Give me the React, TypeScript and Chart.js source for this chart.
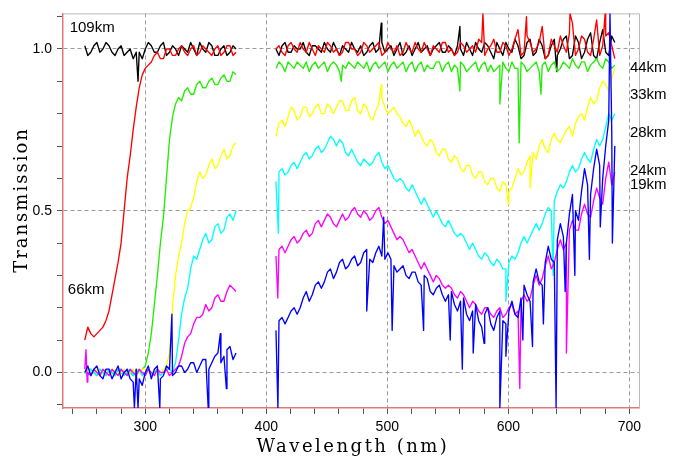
import React, { useEffect, useRef } from "react";
import { Chart, registerables } from "chart.js";

Chart.register(...registerables);

// Wavelength samples (nm)
const WL_UV = [250, 255, 260, 265, 270, 275, 280, 285, 290, 295, 300, 305, 310, 315, 320, 325, 330, 335, 340, 345, 350, 355, 360, 365, 370, 375];
const WL_UV_MID = [252.5, 257.5, 262.5, 267.5, 272.5, 277.5, 282.5, 287.5, 292.5, 297.5, 302.5, 307.5, 312.5, 317.5, 322.5, 327.5, 332.5, 337.5, 342.5, 347.5, 352.5, 357.5, 362.5, 367.5, 372.5];
const WL_VIS = [
  408, 413, 418, 423, 428, 433, 438, 443, 448, 453,
  458, 463, 468, 473, 478, 483, 488, 493, 498, 503,
  508, 513, 518, 523, 528, 533, 538, 543, 548, 553,
  558, 563, 568, 573, 578, 583, 588, 593, 598, 603,
  608, 613, 618, 623, 628, 633, 638, 643, 648, 653,
  658, 663, 668, 673, 678, 683, 688,
];
const WL_VIS_MID = [
  410.5, 415.5, 420.5, 425.5, 430.5, 435.5, 440.5, 445.5, 450.5, 455.5,
  460.5, 465.5, 470.5, 475.5, 480.5, 485.5, 490.5, 495.5, 500.5, 505.5,
  510.5, 515.5, 520.5, 525.5, 530.5, 535.5, 540.5, 545.5, 550.5, 555.5,
  560.5, 565.5, 570.5, 575.5, 580.5, 585.5, 590.5, 595.5, 600.5, 605.5,
  610.5, 615.5, 620.5, 625.5, 630.5, 635.5, 640.5, 645.5, 650.5, 655.5,
  660.5, 665.5, 670.5, 675.5, 680.5, 685.5,
];

// 109 km (black)
const BLACK_UV = [1.01, 0.99, 1.02, 1.0, 1.01, 0.98, 1.01, 0.99, 0.97, 0.99, 1.0, 1.01, 0.99, 1.02, 0.99, 1.0, 1.01, 0.99, 1.0, 1.02, 0.99, 1.01, 0.98, 1.01, 0.99, 1.0];
const BLACK_UV_MID = [0.98, 1.01, 0.99, 1.02, 0.99, 1.0, 0.98, 1.0, 0.99, 0.97, 1.02, 0.99, 1.01, 0.98, 1.01, 0.98, 1.0, 1.02, 0.98, 1.0, 1.02, 0.98, 1.0, 0.98, 1.01];
const BLACK_VIS = [
  1.0, 1.01, 0.99, 1.01, 1.0, 0.99, 1.01, 1.0, 1.02, 0.99,
  1.0, 1.01, 0.99, 1.0, 1.01, 0.99, 1.02, 1.0, 0.99, 1.01,
  1.0, 0.98, 1.01, 1.0, 0.99, 1.01, 1.0, 1.02, 0.99, 1.0,
  1.01, 0.98, 1.0, 1.02, 0.99, 1.01, 0.97, 1.0, 1.02, 0.99,
  1.01, 0.98, 1.03, 0.99, 1.01, 0.98, 1.03, 1.0, 1.04, 0.98,
  1.02, 0.99, 1.05, 0.97, 1.06, 0.98, 1.02,
];
const BLACK_VIS_MID = [
  0.98, 1.02, 0.99, 1.0, 1.02, 0.98, 1.01, 0.99, 1.0, 1.02,
  0.98, 1.0, 1.02, 0.99, 0.98, 1.01, 0.99, 1.02, 1.0, 0.98,
  1.02, 0.99, 0.98, 1.02, 1.0, 0.98, 1.01, 0.99, 1.01, 0.98,
  1.0, 1.02, 0.98, 1.0, 1.02, 0.99, 1.02, 0.98, 1.0, 1.03,
  0.97, 1.02, 0.98, 1.03, 0.97, 1.01, 0.98, 1.03, 0.97, 1.04,
  0.97, 1.03, 0.98, 1.02, 0.99, 1.04,
];
const BLACK_SPIKE_WL = [294, 495, 560, 640];
const BLACK_SPIKE_VAL = [0.9, 1.08, 1.07, 0.93];

// 66 km (red)
const RED_UV = [0.1, 0.12, 0.12, 0.14, 0.19, 0.29, 0.4, 0.6, 0.75, 0.88, 0.94, 0.96, 0.99, 0.97, 1.0, 0.98, 1.01, 0.98, 1.01, 0.99, 1.0, 0.98, 1.01, 0.99, 1.01, 0.99];
const RED_UV_MID = [0.14, 0.11, 0.13, 0.16, 0.24, 0.34, 0.5, 0.67, 0.82, 0.92, 0.95, 0.98, 0.97, 1.0, 0.98, 1.0, 0.99, 1.0, 0.98, 1.01, 0.99, 1.0, 0.98, 1.01, 0.98];
const RED_VIS = [
  1.0, 0.99, 1.01, 1.0, 1.02, 0.99, 1.0, 1.01, 0.99, 1.01,
  1.0, 0.99, 1.02, 1.0, 0.99, 1.01, 1.0, 1.02, 0.99, 1.0,
  1.01, 0.99, 1.0, 1.02, 0.99, 1.0, 1.01, 0.99, 1.02, 1.0,
  0.99, 1.01, 1.0, 0.99, 1.02, 1.0, 1.03, 0.99, 1.01, 1.0,
  1.06, 0.99, 1.02, 1.0, 1.07, 0.98, 1.01, 1.04, 0.99, 1.08,
  1.0, 1.03, 0.98, 1.09, 1.01, 1.05, 0.97,
];
const RED_VIS_MID = [
  1.01, 0.98, 1.02, 0.99, 1.0, 1.02, 0.98, 1.0, 1.02, 0.99,
  0.98, 1.02, 1.0, 0.98, 1.02, 0.99, 1.01, 0.98, 1.02, 0.99,
  0.98, 1.02, 0.99, 1.0, 1.02, 0.98, 1.0, 1.02, 0.99, 0.98,
  1.02, 0.99, 1.01, 1.03, 0.98, 1.01, 0.99, 1.02, 0.98, 1.03,
  0.98, 1.04, 0.99, 1.02, 0.97, 1.03, 0.99, 1.01, 1.05, 0.98,
  1.04, 0.99, 1.03, 0.98, 1.04, 1.01,
];
const RED_SPIKE_WL = [579, 615, 651, 680];
const RED_SPIKE_VAL = [1.11, 1.1, 1.11, 1.11];

// 44 km (green)
const GREEN_UV = [0.0, 0.01, -0.01, 0.0, 0.01, -0.01, 0.0, 0.01, -0.01, 0.0, 0.02, 0.12, 0.3, 0.48, 0.72, 0.83, 0.84, 0.88, 0.86, 0.9, 0.88, 0.91, 0.89, 0.92, 0.9, 0.92];
const GREEN_UV_MID = [0.01, 0.0, 0.01, -0.01, 0.0, 0.01, -0.01, 0.0, 0.01, 0.01, 0.06, 0.21, 0.4, 0.6, 0.79, 0.85, 0.87, 0.86, 0.89, 0.88, 0.9, 0.89, 0.91, 0.9, 0.93];
const GREEN_VIS = [
  0.94, 0.95, 0.96, 0.94, 0.95, 0.96, 0.95, 0.94, 0.96, 0.95,
  0.95, 0.95, 0.96, 0.94, 0.95, 0.96, 0.95, 0.94, 0.96, 0.95,
  0.94, 0.96, 0.95, 0.93, 0.96, 0.95, 0.94, 0.96, 0.95, 0.93,
  0.94, 0.95, 0.94, 0.96, 0.95, 0.93, 0.93, 0.95, 0.94, 0.96,
  0.94, 0.95, 0.94, 0.96, 0.95, 0.93, 0.96, 0.94, 0.95, 0.97,
  0.94, 0.96, 0.95, 0.97, 0.94, 0.96, 0.95,
];
const GREEN_VIS_MID = [
  0.96, 0.93, 0.95, 0.96, 0.94, 0.93, 0.96, 0.95, 0.93, 0.96,
  0.93, 0.94, 0.95, 0.96, 0.94, 0.93, 0.96, 0.95, 0.93, 0.96,
  0.95, 0.93, 0.96, 0.95, 0.93, 0.94, 0.96, 0.93, 0.96, 0.95,
  0.96, 0.93, 0.95, 0.93, 0.96, 0.95, 0.94, 0.96, 0.93, 0.94,
  0.96, 0.93, 0.95, 0.93, 0.96, 0.95, 0.93, 0.96, 0.94, 0.95,
  0.96, 0.93, 0.96, 0.95, 0.97, 0.94,
];
const GREEN_SPIKE_WL = [462, 560, 593, 609, 627];
const GREEN_SPIKE_VAL = [0.9, 0.87, 0.83, 0.71, 0.86];

// 33 km (yellow)
const YELLOW_UV = [0.0, -0.01, 0.01, 0.0, -0.01, 0.01, 0.0, -0.01, 0.01, 0.0, 0.01, -0.01, 0.0, 0.01, 0.06, 0.3, 0.4, 0.5, 0.54, 0.62, 0.61, 0.66, 0.64, 0.69, 0.67, 0.71];
const YELLOW_UV_MID = [0.01, 0.0, -0.01, 0.01, 0.0, -0.01, 0.01, 0.0, -0.01, 0.01, 0.0, 0.01, -0.01, 0.02, 0.2, 0.36, 0.46, 0.51, 0.59, 0.6, 0.64, 0.63, 0.67, 0.66, 0.7];
const YELLOW_VIS = [
  0.73, 0.78, 0.79, 0.81, 0.79, 0.82, 0.8, 0.83, 0.8, 0.82,
  0.82, 0.84, 0.81, 0.85, 0.8, 0.82, 0.78, 0.83, 0.82, 0.81,
  0.8, 0.77, 0.78, 0.73, 0.73, 0.7, 0.71, 0.67, 0.69, 0.65,
  0.66, 0.62, 0.64, 0.6, 0.62, 0.58, 0.6, 0.56, 0.58, 0.57,
  0.63, 0.62, 0.67, 0.66, 0.72, 0.68, 0.74, 0.71, 0.75, 0.73,
  0.79, 0.78, 0.85, 0.84, 0.9, 0.87, 0.94,
];
const YELLOW_VIS_MID = [
  0.77, 0.76, 0.82, 0.78, 0.82, 0.79, 0.82, 0.8, 0.83, 0.8,
  0.84, 0.81, 0.84, 0.81, 0.83, 0.79, 0.81, 0.85, 0.8, 0.82,
  0.79, 0.76, 0.76, 0.75, 0.71, 0.72, 0.68, 0.69, 0.66, 0.67,
  0.63, 0.64, 0.61, 0.62, 0.59, 0.6, 0.57, 0.59, 0.56, 0.6,
  0.61, 0.65, 0.68, 0.7, 0.69, 0.72, 0.72, 0.73, 0.76, 0.77,
  0.8, 0.82, 0.83, 0.88, 0.89, 0.91,
];
const YELLOW_SPIKE_WL = [495, 600, 618];
const YELLOW_SPIKE_VAL = [0.89, 0.52, 0.57];

// 28 km (cyan)
const CYAN_UV = [0.0, 0.01, -0.01, 0.0, 0.01, -0.01, 0.01, 0.0, -0.01, 0.01, 0.0, -0.01, 0.01, 0.0, 0.01, 0.03, 0.18, 0.26, 0.36, 0.38, 0.43, 0.41, 0.46, 0.44, 0.49, 0.5];
const CYAN_UV_MID = [-0.01, 0.0, 0.01, -0.01, 0.0, 0.01, -0.01, 0.01, 0.0, -0.01, 0.01, 0.0, -0.01, 0.01, 0.0, 0.1, 0.23, 0.32, 0.35, 0.41, 0.4, 0.45, 0.43, 0.48, 0.47];
const CYAN_VIS = [
  0.59, 0.63, 0.62, 0.65, 0.65, 0.68, 0.67, 0.7, 0.69, 0.73,
  0.7, 0.71, 0.67, 0.67, 0.64, 0.65, 0.65, 0.68, 0.63, 0.62,
  0.59, 0.59, 0.56, 0.56, 0.52, 0.52, 0.48, 0.48, 0.45, 0.45,
  0.42, 0.42, 0.38, 0.38, 0.35, 0.36, 0.33, 0.34, 0.32, 0.36,
  0.37, 0.42, 0.42, 0.46, 0.46, 0.51, 0.53, 0.58, 0.59, 0.64,
  0.63, 0.68, 0.65, 0.72, 0.72, 0.8, 0.8,
];
const CYAN_VIS_MID = [
  0.62, 0.61, 0.64, 0.63, 0.67, 0.66, 0.69, 0.68, 0.71, 0.72,
  0.72, 0.68, 0.69, 0.65, 0.66, 0.64, 0.67, 0.65, 0.64, 0.6,
  0.6, 0.57, 0.58, 0.54, 0.54, 0.5, 0.5, 0.46, 0.47, 0.43,
  0.43, 0.4, 0.4, 0.36, 0.37, 0.34, 0.35, 0.32, 0.34, 0.35,
  0.4, 0.4, 0.44, 0.44, 0.49, 0.5, 0.56, 0.57, 0.62, 0.62,
  0.66, 0.66, 0.69, 0.7, 0.76, 0.78,
];
const CYAN_SPIKE_WL = [410, 598, 637];
const CYAN_SPIKE_VAL = [0.43, 0.22, 0.3];

// 24 km (magenta)
const MAGENTA_UV = [0.01, -0.01, 0.0, 0.01, -0.01, 0.0, 0.01, -0.01, 0.0, 0.01, -0.01, 0.0, 0.01, 0.0, -0.01, 0.01, 0.05, 0.11, 0.15, 0.17, 0.21, 0.2, 0.24, 0.22, 0.27, 0.25];
const MAGENTA_UV_MID = [0.0, 0.01, -0.01, 0.0, 0.01, -0.01, 0.0, 0.01, -0.01, 0.0, 0.01, -0.01, 0.0, 0.01, 0.0, 0.02, 0.09, 0.12, 0.17, 0.18, 0.19, 0.23, 0.22, 0.25, 0.26];
const MAGENTA_VIS = [
  0.36, 0.39, 0.39, 0.42, 0.41, 0.44, 0.43, 0.47, 0.47, 0.48,
  0.45, 0.49, 0.48, 0.51, 0.48, 0.49, 0.48, 0.51, 0.46, 0.45,
  0.41, 0.41, 0.37, 0.36, 0.32, 0.32, 0.28, 0.29, 0.26, 0.26,
  0.23, 0.24, 0.2, 0.21, 0.18, 0.2, 0.17, 0.2, 0.18, 0.21,
  0.19, 0.24, 0.23, 0.3, 0.29, 0.36, 0.34, 0.41, 0.4, 0.47,
  0.44, 0.52, 0.48, 0.57, 0.52, 0.65, 0.62,
];
const MAGENTA_VIS_MID = [
  0.38, 0.37, 0.41, 0.4, 0.43, 0.42, 0.46, 0.45, 0.49, 0.46,
  0.47, 0.47, 0.5, 0.49, 0.5, 0.47, 0.5, 0.48, 0.47, 0.43,
  0.42, 0.39, 0.38, 0.34, 0.34, 0.3, 0.3, 0.27, 0.27, 0.24,
  0.25, 0.22, 0.22, 0.19, 0.2, 0.18, 0.19, 0.17, 0.2, 0.18,
  0.22, 0.22, 0.27, 0.27, 0.33, 0.32, 0.38, 0.38, 0.44, 0.44,
  0.49, 0.49, 0.53, 0.54, 0.6, 0.58,
];
const MAGENTA_SPIKE_WL = [251, 252, 409.5, 609.5, 648];
const MAGENTA_SPIKE_VAL = [0.07, -0.03, 0.23, -0.05, 0.06];

// 19 km (blue)
const BLUE_UV = [0.0, -0.01, 0.02, -0.02, 0.01, 0.0, -0.02, 0.01, -0.03, -0.02, 0.0, -0.02, 0.02, -0.01, 0.01, 0.0, 0.02, 0.01, 0.03, 0.02, 0.04, 0.03, 0.06, 0.05, 0.08, 0.06];
const BLUE_UV_MID = [0.02, 0.01, -0.01, 0.01, -0.02, 0.02, 0.0, -0.02, 0.01, -0.04, 0.02, 0.01, -0.02, 0.02, -0.01, 0.02, 0.0, 0.03, 0.0, 0.04, 0.01, 0.05, 0.03, 0.07, 0.04];
const BLUE_VIS = [
  0.13, 0.17, 0.17, 0.2, 0.2, 0.25, 0.24, 0.28, 0.28, 0.32,
  0.31, 0.35, 0.33, 0.36, 0.34, 0.38, 0.34, 0.39, 0.35, 0.35,
  0.31, 0.33, 0.29, 0.31, 0.27, 0.29, 0.24, 0.27, 0.22, 0.25,
  0.19, 0.23, 0.16, 0.21, 0.14, 0.2, 0.13, 0.19, 0.15, 0.22,
  0.17, 0.27, 0.22, 0.32, 0.27, 0.39, 0.34, 0.46, 0.4, 0.55,
  0.47, 0.63, 0.55, 0.69, 0.6, 0.78, 0.7,
];
const BLUE_VIS_MID = [
  0.16, 0.15, 0.19, 0.18, 0.23, 0.22, 0.27, 0.26, 0.31, 0.29,
  0.34, 0.32, 0.35, 0.33, 0.37, 0.35, 0.37, 0.36, 0.37, 0.33,
  0.32, 0.3, 0.31, 0.28, 0.3, 0.25, 0.26, 0.24, 0.24, 0.21,
  0.22, 0.18, 0.19, 0.16, 0.18, 0.15, 0.17, 0.16, 0.19, 0.18,
  0.23, 0.24, 0.28, 0.28, 0.34, 0.35, 0.41, 0.42, 0.49, 0.5,
  0.56, 0.58, 0.63, 0.64, 0.7, 0.74,
];
const BLUE_SPIKE_WL = [291, 294, 312, 322, 352, 362, 367, 409.6, 483, 497, 504, 530, 552, 562, 571, 580, 593, 598, 612, 620, 629, 639.5, 647, 655, 667, 676, 684, 686];
const BLUE_SPIKE_VAL = [-0.11, -0.11, -0.11, 0.18, -0.11, 0.12, -0.05, -0.11, 0.19, 0.48, 0.13, 0.13, 0.1, 0.01, 0.06, 0.09, -0.11, 0.05, 0.1, 0.08, 0.15, -0.11, 0.25, 0.3, 0.35, 0.45, 1.11, 0.4];

// Axis ticks
const X_TICKS = [240, 260, 280, 300, 320, 340, 360, 380, 400, 420, 440, 460, 480, 500, 520, 540, 560, 580, 600, 620, 640, 660, 680, 700];
const X_MAJOR = [300, 400, 500, 600, 700];
const Y_TICKS = [-0.1, 0.0, 0.1, 0.2, 0.3, 0.4, 0.5, 0.6, 0.7, 0.8, 0.9, 1.0, 1.1];
const Y_MAJOR = [0.0, 0.5, 1.0];

// Curve labels (altitude)
const LABEL_TEXT = ["109km", "66km", "44km", "33km", "28km", "24km", "19km"];
const LABEL_WL = [237.5, 236, 700.5, 700.5, 700.5, 700.5, 700.5];
const LABEL_T = [1.066, 0.256, 0.941, 0.857, 0.741, 0.622, 0.579];

type P = { x: number; y: number | null };

function build(
  uv: number[], uvMid: number[], vis: number[], visMid: number[], sw: number[], sv: number[]
): P[] {
  const pts: P[] = [];
  WL_UV.forEach((w, i) => pts.push({ x: w, y: uv[i] }));
  WL_UV_MID.forEach((w, i) => pts.push({ x: w, y: uvMid[i] }));
  WL_VIS.forEach((w, i) => pts.push({ x: w, y: vis[i] }));
  WL_VIS_MID.forEach((w, i) => pts.push({ x: w, y: visMid[i] }));
  sw.forEach((w, i) => pts.push({ x: w, y: sv[i] }));
  pts.push({ x: 392, y: null });
  pts.sort((a, b) => a.x - b.x);
  return pts;
}

const isMajor = (v: number, list: number[]) => list.some((m) => Math.abs(m - v) < 1e-6);

export default function App() {
  const ref = useRef<HTMLCanvasElement | null>(null);

  useEffect(() => {
    if (!ref.current) return;
    const mk = (label: string, color: string, data: P[]) => ({
      label,
      data,
      borderColor: color,
      backgroundColor: color,
      borderWidth: 1.35,
      pointRadius: 0,
      fill: false,
      tension: 0,
      spanGaps: false,
    });

    const datasets = [
      mk("19km", "#0000ff", build(BLUE_UV, BLUE_UV_MID, BLUE_VIS, BLUE_VIS_MID, BLUE_SPIKE_WL, BLUE_SPIKE_VAL)),
      mk("24km", "#ff00ff", build(MAGENTA_UV, MAGENTA_UV_MID, MAGENTA_VIS, MAGENTA_VIS_MID, MAGENTA_SPIKE_WL, MAGENTA_SPIKE_VAL)),
      mk("28km", "#00ffff", build(CYAN_UV, CYAN_UV_MID, CYAN_VIS, CYAN_VIS_MID, CYAN_SPIKE_WL, CYAN_SPIKE_VAL)),
      mk("33km", "#ffff00", build(YELLOW_UV, YELLOW_UV_MID, YELLOW_VIS, YELLOW_VIS_MID, YELLOW_SPIKE_WL, YELLOW_SPIKE_VAL)),
      mk("44km", "#22ee00", build(GREEN_UV, GREEN_UV_MID, GREEN_VIS, GREEN_VIS_MID, GREEN_SPIKE_WL, GREEN_SPIKE_VAL)),
      mk("66km", "#ff0000", build(RED_UV, RED_UV_MID, RED_VIS, RED_VIS_MID, RED_SPIKE_WL, RED_SPIKE_VAL)),
      mk("109km", "#000000", build(BLACK_UV, BLACK_UV_MID, BLACK_VIS, BLACK_VIS_MID, BLACK_SPIKE_WL, BLACK_SPIKE_VAL)),
    ];

    const framePlugin = {
      id: "frame",
      beforeDatasetsDraw(chart: any) {
        const { ctx, chartArea } = chart;
        ctx.save();
        ctx.strokeStyle = "#b8b8b8";
        ctx.lineWidth = 1;
        ctx.beginPath();
        ctx.moveTo(chartArea.left, chartArea.top + 0.5);
        ctx.lineTo(chartArea.right + 0.5, chartArea.top + 0.5);
        ctx.lineTo(chartArea.right + 0.5, chartArea.bottom);
        ctx.stroke();
        ctx.restore();
      },
      afterDraw(chart: any) {
        const { ctx, chartArea } = chart;
        const xs = chart.scales.x;
        const ys = chart.scales.y;
        ctx.save();
        ctx.fillStyle = "#000";
        ctx.font = '15px "Liberation Sans", Arial, sans-serif';
        ctx.textAlign = "left";
        ctx.textBaseline = "middle";
        LABEL_TEXT.forEach((t, i) => {
          ctx.fillText(t, xs.getPixelForValue(LABEL_WL[i]), ys.getPixelForValue(LABEL_T[i]));
        });
        // axis titles
        ctx.font = '18px "DejaVu Serif", serif';
        (ctx as any).letterSpacing = "2.5px";
        ctx.textAlign = "center";
        ctx.fillText("Wavelength (nm)", (chartArea.left + chartArea.right) / 2 + 2, 447);
        ctx.translate(22, 200);
        ctx.rotate(-Math.PI / 2);
        (ctx as any).letterSpacing = "2px";
        ctx.fillText("Transmission", 0, 0);
        ctx.restore();
      },
    };

    const chart = new Chart(ref.current, {
      type: "line",
      data: { datasets: datasets as any },
      options: {
        animation: false,
        responsive: false,
        maintainAspectRatio: false,
        layout: { padding: { top: 6, right: 43, left: 0, bottom: 0 } },
        plugins: { legend: { display: false }, tooltip: { enabled: false }, title: { display: false } },
        elements: { line: { borderJoinStyle: "round" } },
        scales: {
          x: {
            type: "linear",
            min: 232,
            max: 708,
            afterBuildTicks: (s: any) => {
              s.ticks = X_TICKS.map((v) => ({ value: v }));
            },
            afterFit: (s: any) => {
              s.height = 53;
            },
            ticks: {
              autoSkip: false,
              maxRotation: 0,
              padding: 5,
              color: "#000",
              font: { family: '"Liberation Sans", Arial, sans-serif', size: 14 },
              callback: (v: any) => (isMajor(Number(v), X_MAJOR) ? String(v) : ""),
            },
            grid: {
              color: (c: any) => (c.tick && isMajor(c.tick.value, X_MAJOR) ? "#9a9a9a" : "rgba(0,0,0,0)"),
              lineWidth: 1,
              tickColor: "#555",
              tickLength: 6,
              tickWidth: 1,
            },
            border: { color: "#e07878", width: 1.5, dash: [4, 3] },
          },
          y: {
            type: "linear",
            min: -0.11,
            max: 1.11,
            afterBuildTicks: (s: any) => {
              s.ticks = Y_TICKS.map((v) => ({ value: v }));
            },
            afterFit: (s: any) => {
              s.width = 63;
            },
            ticks: {
              autoSkip: false,
              padding: 5,
              color: "#000",
              font: { family: '"Liberation Sans", Arial, sans-serif', size: 14 },
              callback: (v: any) => (isMajor(Number(v), Y_MAJOR) ? Number(v).toFixed(1) : ""),
            },
            grid: {
              color: (c: any) => (c.tick && isMajor(c.tick.value, Y_MAJOR) ? "#9a9a9a" : "rgba(0,0,0,0)"),
              lineWidth: 1,
              tickColor: "#555",
              tickLength: 6,
              tickWidth: 1,
            },
            border: { color: "#e07878", width: 1.5, dash: [4, 3] },
          },
        },
      },
      plugins: [framePlugin],
    });
    return () => chart.destroy();
  }, []);

  return (
    <div style={{ position: "absolute", left: 0, top: 0, width: 682, height: 461, background: "#fff" }}>
      <canvas ref={ref} width={682} height={461} style={{ width: 682, height: 461, display: "block" }} />
    </div>
  );
}
